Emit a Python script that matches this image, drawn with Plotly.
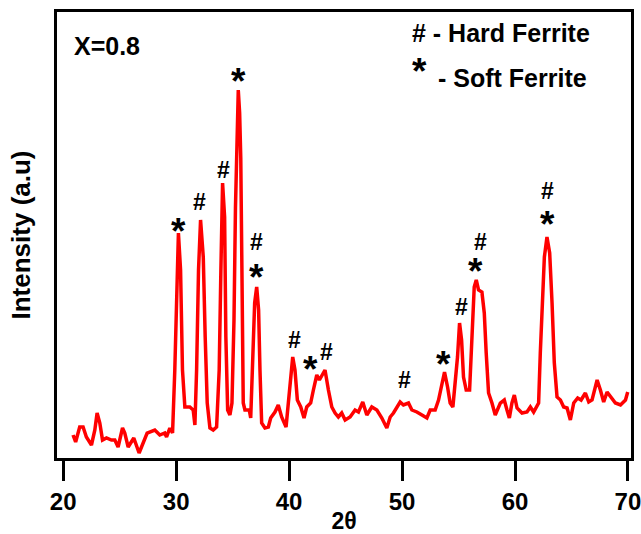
import plotly.graph_objects as go

# XRD pattern, X = 0.8
two_theta = [
    20.87, 21.1, 21.46, 21.76, 22.05, 22.5, 22.8, 23.0, 23.24, 23.48,
    23.83, 24.27, 24.57, 24.86, 25.25, 25.45, 25.75, 26.25, 26.72, 27.07,
    27.43, 28.11, 28.55, 28.99, 29.15, 29.44, 29.68, 29.88, 30.03, 30.2,
    30.39, 30.56, 30.77, 31.21, 31.51, 31.66, 31.81, 31.98, 32.16, 32.4,
    32.57, 32.75, 32.99, 33.28, 33.58, 33.81, 33.96, 34.11, 34.29, 34.4,
    34.56, 34.76, 34.94, 35.12, 35.25, 35.38, 35.5, 35.62, 35.72, 35.82,
    35.94, 36.09, 36.47, 36.6, 36.77, 36.95, 37.13, 37.3, 37.42, 37.57,
    37.86, 38.16, 38.37, 38.75, 39.04, 39.34, 39.73, 40.08, 40.32, 40.52,
    40.73, 41.03, 41.32, 41.56, 41.91, 42.15, 42.45, 42.68, 42.89, 43.18,
    43.48, 43.78, 44.07, 44.36, 44.66, 44.96, 45.4, 45.84, 46.14, 46.52,
    46.88, 47.32, 47.77, 48.21, 48.65, 48.95, 49.24, 49.54, 49.83, 50.12,
    50.57, 50.87, 51.31, 51.76, 52.2, 52.49, 52.93, 53.23, 53.53, 53.76,
    54.03, 54.26, 54.5, 54.71, 54.91, 55.09, 55.27, 55.44, 55.68, 55.98,
    56.19, 56.39, 56.57, 56.77, 57.07, 57.28, 57.45, 57.66, 57.96, 58.25,
    58.7, 59.05, 59.29, 59.5, 59.73, 59.94, 60.18, 60.62, 61.06, 61.36,
    61.65, 62.09, 62.24, 62.42, 62.6, 62.83, 63.07, 63.28, 63.48, 63.72,
    64.02, 64.31, 64.61, 64.9, 65.2, 65.55, 65.85, 66.23, 66.53, 66.82,
    67.27, 67.56, 67.85, 68.15, 68.51, 68.89, 69.34, 69.78, 69.98,
]
intensity = [
    23, 16, 31, 31, 21, 13, 28, 45, 35, 18,
    20, 18, 18, 11, 30, 25, 11, 20, 5, 15,
    25, 28, 23, 25, 21, 30, 25, 88, 155, 225,
    188, 88, 51, 51, 48, 33, 88, 188, 238, 201,
    121, 55, 30, 28, 31, 88, 188, 275, 241, 121,
    48, 43, 55, 138, 250, 330, 368, 345, 300, 190,
    55, 48, 48, 40, 88, 155, 171, 148, 88, 35,
    30, 31, 40, 46, 53, 41, 31, 71, 101, 88,
    58, 51, 40, 51, 55, 68, 83, 78, 83, 88,
    68, 51, 45, 41, 45, 38, 41, 48, 46, 56,
    43, 51, 48, 40, 30, 41, 45, 50, 56, 53,
    55, 48, 46, 43, 40, 48, 48, 58, 75, 86,
    71, 55, 51, 75, 101, 135, 118, 81, 68, 68,
    121, 171, 178, 168, 166, 145, 105, 65, 55, 43,
    55, 58, 48, 40, 55, 63, 50, 45, 46, 51,
    46, 55, 105, 155, 201, 221, 205, 155, 95, 61,
    58, 51, 50, 38, 55, 60, 58, 65, 56, 58,
    78, 68, 56, 66, 61, 55, 53, 58, 66,
]

# Phase markers: '#' hard ferrite, '*' soft ferrite
mark_x = [30.18, 32.04, 34.17, 35.5, 37.07, 37.07, 40.46, 41.85, 43.27,
          50.19, 53.67, 55.3, 56.48, 56.93, 62.89, 62.89]
mark_y = [236, 256, 288, 386, 216, 190, 118, 98, 106,
          78, 103, 151, 196, 216, 267, 243]
mark_sym = ["*", "#", "#", "*", "#", "*", "#", "*", "#",
            "#", "*", "#", "*", "#", "#", "*"]

x_ticks = [20, 30, 40, 50, 60, 70]

FONT = "Liberation Sans"
STAR_FONT = dict(family=FONT, size=37, color="black", weight="bold")
HASH_FONT = dict(family=FONT, size=23, color="black", weight="bold")

fig = go.Figure()
fig.add_trace(go.Scatter(
    x=two_theta, y=intensity, mode="lines",
    line=dict(color="#ff0000", width=3.5),
    showlegend=False, hoverinfo="skip",
))

annotations = []
for xm, ym, s in zip(mark_x, mark_y, mark_sym):
    if s == "*":
        annotations.append(dict(
            x=xm, y=ym, xref="x", yref="y", text="*", showarrow=False,
            xanchor="center", yanchor="middle", yshift=-9, font=STAR_FONT,
        ))
    else:
        annotations.append(dict(
            x=xm, y=ym, xref="x", yref="y", text="#", showarrow=False,
            xanchor="center", yanchor="middle", font=HASH_FONT,
        ))

label_font = dict(family=FONT, size=25, color="black", weight="bold")
annotations += [
    dict(x=0.026, y=0.924, xref="paper", yref="paper", text="X=0.8",
         showarrow=False, xanchor="left", yanchor="middle", font=label_font),
    dict(x=0.615, y=0.953, xref="paper", yref="paper", text="# - Hard Ferrite",
         showarrow=False, xanchor="left", yanchor="middle", font=label_font),
    dict(x=0.632, y=0.886, xref="paper", yref="paper", text="*",
         showarrow=False, xanchor="center", yanchor="middle", yshift=-9,
         font=STAR_FONT),
    dict(x=0.66, y=0.851, xref="paper", yref="paper", text="- Soft Ferrite",
         showarrow=False, xanchor="left", yanchor="middle", font=label_font),
]

fig.update_layout(
    width=641, height=534,
    margin=dict(l=57.3, r=10.3, t=12, b=76),
    paper_bgcolor="white", plot_bgcolor="white",
    annotations=annotations,
    xaxis=dict(
        range=[19.45, 70.27], tickvals=x_ticks, ticktext=[str(t) for t in x_ticks],
        ticks="outside", ticklen=20, tickwidth=3, tickcolor="black",
        showline=True, linewidth=3, linecolor="black", mirror=True,
        showgrid=False, zeroline=False, automargin=False,
        ticklabeloverflow="allow",
        tickfont=dict(family=FONT, size=24, color="black", weight="bold"),
        title=dict(text="2θ", standoff=4,
                   font=dict(family=FONT, size=23, color="black", weight="bold")),
    ),
    yaxis=dict(
        range=[0, 446], showticklabels=False, ticks="",
        showline=True, linewidth=3, linecolor="black", mirror=True,
        showgrid=False, zeroline=False, automargin=False,
        title=dict(text="Intensity (a.u)", standoff=16,
                   font=dict(family=FONT, size=26, color="black", weight="bold")),
    ),
)

fig.write_html("out.html")
